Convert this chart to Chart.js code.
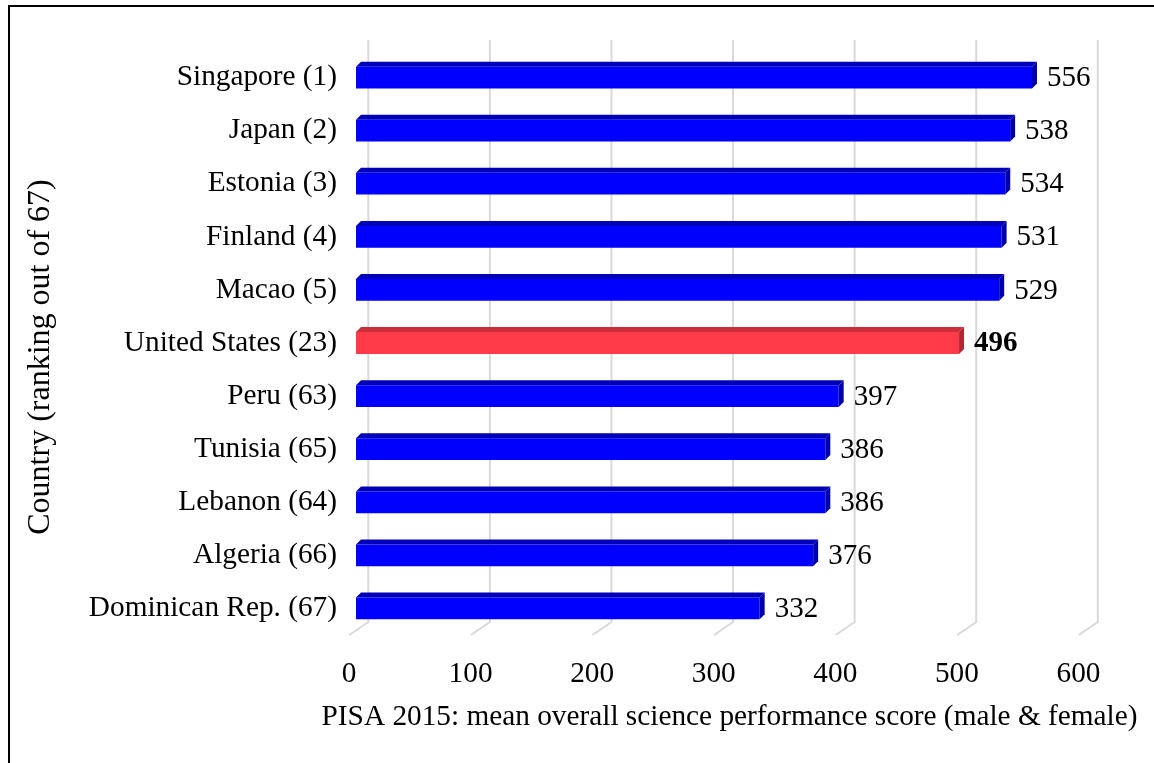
<!DOCTYPE html>
<html>
<head>
<meta charset="utf-8">
<script src="https://cdn.jsdelivr.net/npm/chart.js@4.4.1/dist/chart.umd.min.js"></script>
<style>
  body { margin: 0; background: #fff; }
  canvas { display: block; }
</style>
</head>
<body>
<canvas id="chart" width="1154" height="763"></canvas>
<script>
const countries = [
  "Singapore (1)", "Japan (2)", "Estonia (3)", "Finland (4)", "Macao (5)",
  "United States (23)", "Peru (63)", "Tunisia (65)", "Lebanon (64)",
  "Algeria (66)", "Dominican Rep. (67)"
];
const scores = [556, 538, 534, 531, 529, 496, 397, 386, 386, 376, 332];
const xTicks = [0, 100, 200, 300, 400, 500, 600];
const highlight = "United States (23)";

const xTitle = "PISA 2015: mean overall science performance score (male & female)";
const yTitle = "Country (ranking out of 67)";

const FONT = '"Liberation Serif", "Times New Roman", serif';

const front = countries.map(c => c === highlight ? "#ff3b4a" : "#0000ff");
const topFace = countries.map(c => c === highlight ? "#c9303c" : "#0000b8");
const sideFace = countries.map(c => c === highlight ? "#b02834" : "#0000a8");

// back wall / floor depth for gridlines, bar depth for 3d faces
const wallDx = 19, wallDy = 13, wallShift = 12.3;
const barD = 5;

const threeD = {
  id: "threeD",
  beforeDraw(chart) {
    const ctx = chart.ctx;
    ctx.save();
    ctx.strokeStyle = "#000";
    ctx.lineWidth = 2;
    ctx.strokeRect(9, 6, 2000, 2000);
    ctx.restore();
  },
  beforeDatasetsDraw(chart) {
    const {ctx, chartArea, scales: {x}} = chart;
    ctx.save();
    ctx.strokeStyle = "#d9d9d9";
    ctx.lineWidth = 2;
    xTicks.forEach(v => {
      const xb = x.getPixelForValue(v) + wallShift;
      ctx.beginPath();
      ctx.moveTo(xb, chartArea.top - wallDy + 2);
      ctx.lineTo(xb, chartArea.bottom - wallDy);
      ctx.lineTo(xb - wallDx, chartArea.bottom);
      ctx.stroke();
    });
    ctx.restore();
  },
  afterDatasetsDraw(chart) {
    const ctx = chart.ctx;
    const meta = chart.getDatasetMeta(0);
    ctx.save();
    meta.data.forEach((bar, i) => {
      const p = bar.getProps(["x", "y", "base", "height"], true);
      const top = p.y - p.height / 2, bottom = p.y + p.height / 2;
      ctx.fillStyle = topFace[i];
      ctx.beginPath();
      ctx.moveTo(p.base, top);
      ctx.lineTo(p.base + barD, top - barD);
      ctx.lineTo(p.x + barD, top - barD);
      ctx.lineTo(p.x, top);
      ctx.closePath();
      ctx.fill();
      ctx.fillStyle = sideFace[i];
      ctx.beginPath();
      ctx.moveTo(p.x, top);
      ctx.lineTo(p.x + barD, top - barD);
      ctx.lineTo(p.x + barD, bottom - barD);
      ctx.lineTo(p.x, bottom);
      ctx.closePath();
      ctx.fill();

      ctx.fillStyle = "#000";
      ctx.font = (countries[i] === highlight ? "bold " : "") + "29px " + FONT;
      ctx.textAlign = "left";
      ctx.textBaseline = "middle";
      ctx.fillText(scores[i], p.x + 15, p.y + 1);
    });
    ctx.restore();
  },
  afterDraw(chart) {
    const ctx = chart.ctx;
    ctx.save();
    ctx.fillStyle = "#000";
    ctx.textAlign = "center";
    ctx.textBaseline = "middle";
    ctx.font = "29.3px " + FONT;
    ctx.fillText(xTitle, 729.5, 717);
    ctx.font = "32px " + FONT;
    ctx.translate(41, 357);
    ctx.rotate(-Math.PI / 2);
    ctx.fillText(yTitle, 0, 0);
    ctx.restore();
  }
};

new Chart(document.getElementById("chart"), {
  type: "bar",
  data: {
    labels: countries,
    datasets: [{
      data: scores,
      backgroundColor: front,
      borderWidth: 0,
      categoryPercentage: 1,
      barPercentage: 0.41
    }]
  },
  options: {
    indexAxis: "y",
    responsive: false,
    animation: false,
    layout: { padding: { top: 51, right: 68.5, left: 0, bottom: 0 } },
    plugins: { legend: { display: false }, tooltip: { enabled: false } },
    scales: {
      x: {
        min: 0,
        max: 600,
        afterFit: s => { s.height = 128; },
        afterBuildTicks: s => { s.ticks = xTicks.map(v => ({ value: v })); },
        grid: { display: false },
        border: { display: false },
        ticks: {
          color: "#000",
          font: { family: FONT, size: 29.3 },
          padding: 14,
          labelOffset: -7,
          maxRotation: 0
        }
      },
      y: {
        afterFit: s => { s.width = 356; },
        grid: { display: false },
        border: { display: false },
        ticks: {
          color: "#000",
          font: { family: FONT, size: 29.3 },
          padding: 11
        }
      }
    }
  },
  plugins: [threeD]
});
</script>
</body>
</html>
